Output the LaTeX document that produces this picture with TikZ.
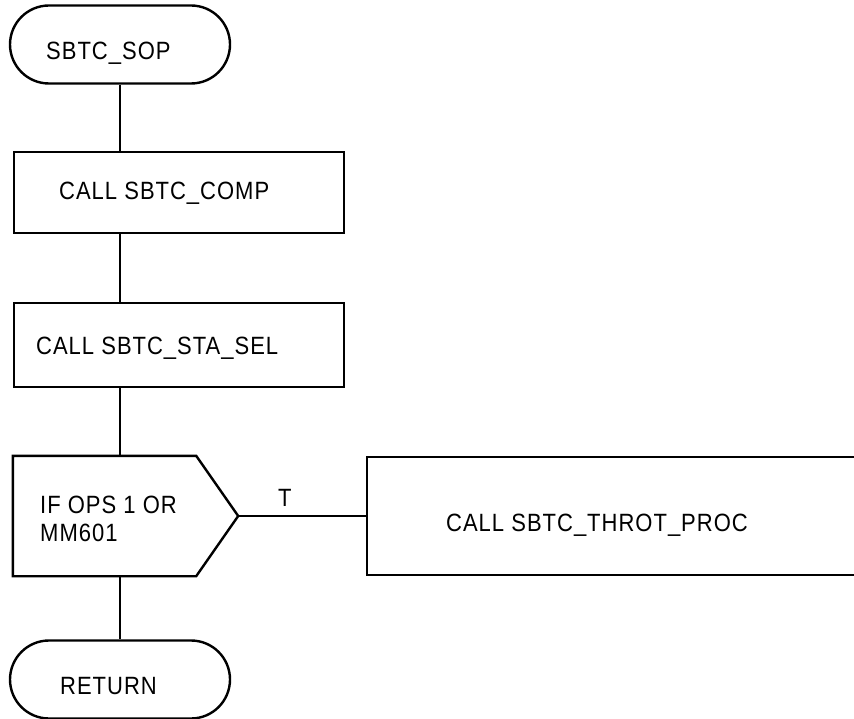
\documentclass[tikz,border=0pt]{standalone}
\usepackage{fontspec}
\setmainfont{Liberation Sans}[FakeStretch=0.88, LetterSpace=4]
\usetikzlibrary{shapes.misc}
\begin{document}
\begin{tikzpicture}[x=1pt,y=-1pt, line width=2.4pt,
  term/.style={draw, rounded rectangle, minimum width=220pt, minimum height=78pt, inner sep=0pt},
  proc/.style={draw, rectangle, inner sep=0pt},
  hidden/.style={draw=none, rectangle, inner sep=0pt},
  lbl/.style={anchor=base west, inner sep=0pt, font=\fontsize{25}{28}\selectfont}]
\useasboundingbox (0,0) rectangle (854,719);
\clip (0,0) rectangle (854,719);
% shapes
\node[term] (sop) at (120,44.5) {};
\node[proc, minimum width=330pt, minimum height=81pt] (comp) at (179,192.5) {};
\node[proc, minimum width=330pt, minimum height=84pt] (sel) at (179,345) {};
\node[hidden, minimum width=223pt, minimum height=118pt] (dec) at (125.5,516) {};
\draw (dec.north west) -- ([xshift=-42pt]dec.north east) -- (dec.east)
      -- ([xshift=-42pt]dec.south east) -- (dec.south west) -- cycle;
\node[proc, minimum width=600pt, minimum height=118pt] (throt) at (667,516) {};
\node[term] (ret) at (120,679.5) {};
% texts
\node[lbl] (tsop) at (45,60) {SBTC\_SOP};
\node[lbl] (tcomp) at (58,200) {CALL SBTC\_COMP};
\node[lbl] (tsel) at (35,354) {CALL SBTC\_STA\_SEL};
\node[lbl] (tdec1) at (39,513) {IF OPS 1 OR};
\node[lbl] (tdec2) at (39,541) {MM601};
\node[lbl] (tT) at (277,506) {T};
\node[lbl] (tthrot) at (445,531) {CALL SBTC\_THROT\_PROC};
\node[lbl] (tret) at (59,694) {RETURN};
% connectors
\draw (sop.south) -- (sop.south |- comp.north);
\draw (sop.south |- comp.south) -- (sop.south |- sel.north);
\draw (sop.south |- sel.south) -- (sop.south |- dec.north);
\draw (dec.east) -- (throt.west);
\draw (sop.south |- dec.south) -- (ret.north);
\end{tikzpicture}
\end{document}
